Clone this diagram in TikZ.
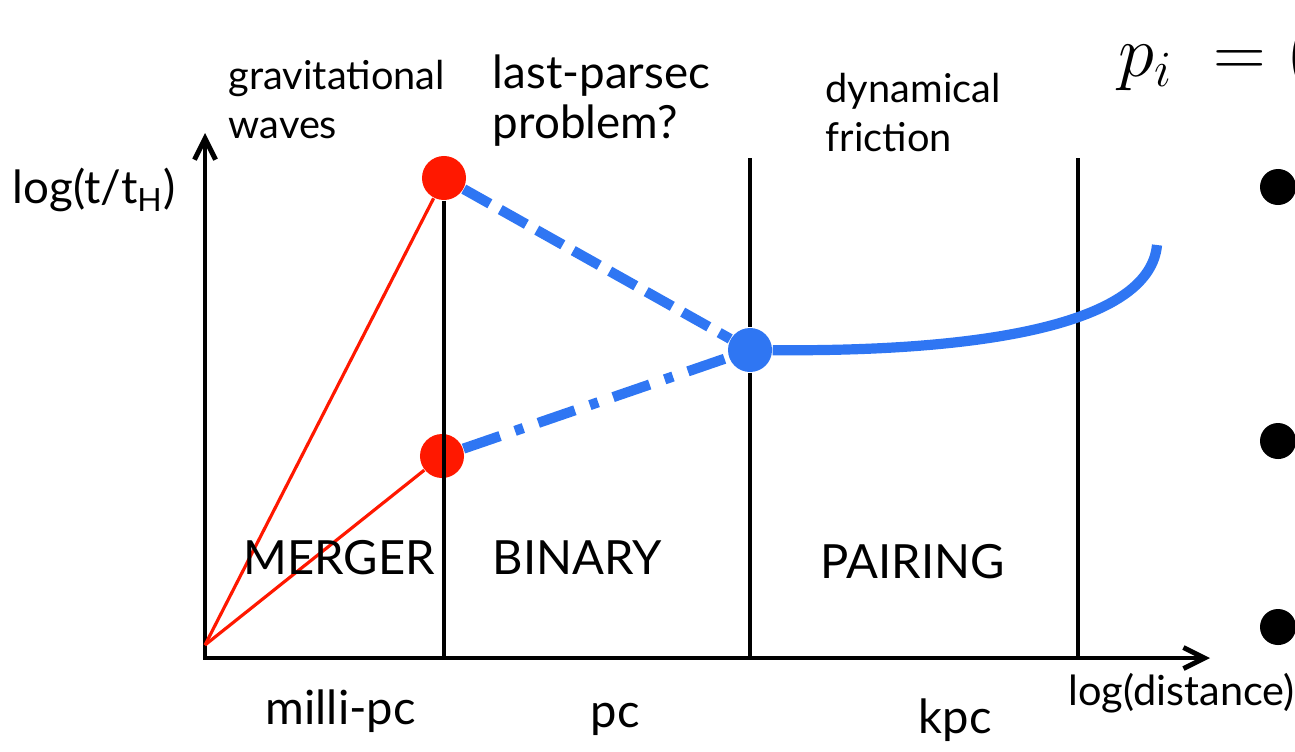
\documentclass[tikz,border=0pt]{standalone}
\usepackage{fontspec}
\setmainfont{Lato}
\usetikzlibrary{positioning, arrows.meta, calc}
\definecolor{mergered}{HTML}{FF1800}
\definecolor{orbitblue}{HTML}{2F76F3}

\begin{document}
\begin{tikzpicture}[x=0.01cm, y=-0.01cm,
    txt/.style={inner sep=0pt, anchor=base west, font=\fontsize{13.4}{13.7}\selectfont},
    twoline/.style={inner sep=0pt, anchor=north west, align=left, font=\fontsize{11.3}{13.7}\selectfont},
    bigtwoline/.style={twoline, font=\fontsize{13}{14.2}\selectfont},
    reddot/.style={circle, fill=mergered, inner sep=0pt, minimum size=0.44cm},
    bluedot/.style={circle, fill=orbitblue, inner sep=0pt, minimum size=0.44cm},
    bulletdot/.style={circle, fill=black, inner sep=0pt, minimum size=0.36cm},
    axis/.style={line width=1.4pt, {Straight Barb[length=6pt,width=6pt]}-{Straight Barb[length=6pt,width=6pt]}},
    divider/.style={line width=0.9pt},
    track/.style={mergered, line width=0.9pt},
    orbit/.style={orbitblue, line width=2.9pt}]
  \clip (0,0) rectangle (1295,751);

  % axes
  \coordinate (corner) at (205,658);
  \coordinate (ytip) at (205,133);
  \coordinate (xtip) at (1210,658);
  \draw[axis] (ytip) |- (xtip);

  % stages
  \node[reddot] (gwtop) at (444,178) {};
  \node[reddot] (gwbot) at (442,456) {};
  \node[bluedot] (df) at (750,350) {};
  \coordinate (o) at (205,645);
  \coordinate (pctop) at (750,158);
  \coordinate (kpctop) at (1078,158);
  \coordinate (fend) at (1157,245);

  \draw[divider] (gwtop) -- (gwtop |- corner);
  \draw[divider] (pctop) -- (df);
  \draw[divider] (df) -- (pctop |- corner);
  \draw[divider] (kpctop) -- (kpctop |- corner);

  \draw[track] (o) -- (gwtop);
  \draw[track] (o) -- (gwbot);
  \draw[orbit, dash pattern=on 8.5pt off 3.4pt] (gwtop) -- (df);
  \draw[orbit, dash pattern=on 11pt off 4.5pt on 2.5pt off 4.5pt] (gwbot) -- (df);
  \draw[orbit] (df) .. controls (1000,352) and (1150,320) .. (fend);

  % labels
  \node[twoline] (gwlabel) at (228,60) {gravitational\\waves};
  \node[bigtwoline] (lplabel) at (492,54) {last-parsec\\problem?};
  \node[twoline] (dflabel) at (825,73) {dynamical\\friction};
  \node[txt, font=\fontsize{13}{13}\selectfont] (ylabel) at (12,203) {log(t/t\textsubscript{H})};
  \node[txt] (merger) at (243,574) {MERGER};
  \node[txt] (binary) at (492,574) {BINARY};
  \node[txt] (pairing) at (820,578) {PAIRING};
  \node[txt] (mpc) at (265,724) {milli-pc};
  \node[txt] (pc) at (590,727) {pc};
  \node[txt] (kpc) at (918,733) {kpc};
  \node[txt, font=\fontsize{11.8}{12}\selectfont] (xlabel) at (1068,705) {log(distance)};

  % slide text on the right
  \node[txt, font=\fontsize{22}{22}\selectfont] (peq) at (1118,76) {$p_i \;= ($};
  \node[bulletdot] (b1) at (1278,187) {};
  \node[bulletdot] (b2) at (1278,441) {};
  \node[bulletdot] (b3) at (1278,627) {};
\end{tikzpicture}
\end{document}
